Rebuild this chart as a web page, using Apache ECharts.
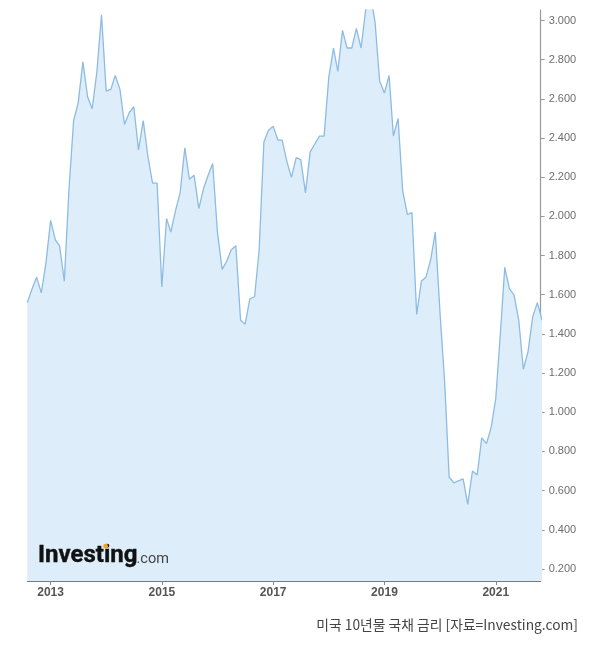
<!DOCTYPE html>
<html>
<head>
<meta charset="utf-8">
<script src="https://cdn.jsdelivr.net/npm/echarts@6/dist/echarts.min.js"></script>
<style>
html,body{margin:0;padding:0;background:#ffffff;}
#c{width:600px;height:648px;}
</style>
</head>
<body>
<div id="c"></div>
<script>
// US 10-year Treasury yield, monthly
const firstYear = 2012;
const firstMonth = 8; // August 2012
const yields2012 = [1.56, 1.63, 1.69, 1.61, 1.76];
const yields2013 = [1.98, 1.88, 1.85, 1.67, 2.13, 2.49, 2.58, 2.79, 2.61, 2.55, 2.74, 3.03];
const yields2014 = [2.64, 2.65, 2.72, 2.65, 2.47, 2.53, 2.56, 2.34, 2.49, 2.31, 2.17, 2.17];
const yields2015 = [1.64, 1.99, 1.92, 2.03, 2.12, 2.35, 2.19, 2.21, 2.04, 2.14, 2.21, 2.27];
const yields2016 = [1.92, 1.73, 1.77, 1.83, 1.85, 1.47, 1.45, 1.58, 1.59, 1.83, 2.38, 2.44];
const yields2017 = [2.46, 2.39, 2.39, 2.28, 2.20, 2.30, 2.29, 2.12, 2.33, 2.37, 2.41, 2.41];
const yields2018 = [2.71, 2.86, 2.74, 2.95, 2.86, 2.86, 2.96, 2.86, 3.06, 3.14, 2.99, 2.69];
const yields2019 = [2.63, 2.72, 2.41, 2.50, 2.13, 2.01, 2.02, 1.50, 1.67, 1.69, 1.78, 1.92];
const yields2020 = [1.51, 1.15, 0.67, 0.64, 0.65, 0.66, 0.53, 0.70, 0.68, 0.87, 0.84, 0.92];
const yields2021 = [1.07, 1.41, 1.74, 1.63, 1.60, 1.47, 1.22, 1.31, 1.49, 1.56, 1.47];

const yearlyYields = [yields2012, yields2013, yields2014, yields2015, yields2016,
                      yields2017, yields2018, yields2019, yields2020, yields2021];

const xTickYears = [2013, 2015, 2017, 2019, 2021];
const yTickMin = 0.2, yTickMax = 3.0, yTickStep = 0.2;
const viewStart = '2012-08-01', viewEnd = '2021-10-23';
const viewYMin = 0.139, viewYMax = 3.054;

const captionText = '미국 10년물 국채 금리 [자료=Investing.com]';

// build [date, value] pairs (first of each month)
const seriesData = [];
yearlyYields.forEach(function (arr, yi) {
  const yr = firstYear + yi;
  const m0 = yi === 0 ? firstMonth : 1;
  arr.forEach(function (v, k) {
    seriesData.push([new Date(yr, m0 - 1 + k, 1).getTime(), v]);
  });
});

function parseDay(s) { const p = s.split('-'); return new Date(+p[0], +p[1] - 1, +p[2]).getTime(); }

const chart = echarts.init(document.getElementById('c'), null, { renderer: 'canvas' });

const G = { left: 27.3, right: 59.3, top: 10, bottom: 67 };
const span = xTickYears[xTickYears.length - 1] - xTickYears[0];

const option = {
  animation: false,
  backgroundColor: '#ffffff',
  grid: [
    { left: G.left, right: G.right, top: G.top, bottom: G.bottom, containLabel: false },
    { left: 50.6, right: 104.3, top: G.top, bottom: G.bottom, containLabel: false },
    { left: G.left, right: G.right, top: 20.5, bottom: 79, containLabel: false }
  ],
  xAxis: [
    {
      type: 'time', gridIndex: 0,
      min: parseDay(viewStart), max: parseDay(viewEnd),
      axisLine: { show: true, onZero: false, lineStyle: { color: '#7a7a7a', width: 1 } },
      axisTick: { show: false }, axisLabel: { show: false }, splitLine: { show: false }
    },
    {
      type: 'value', gridIndex: 1, position: 'bottom',
      min: 0, max: span, interval: 2,
      axisLine: { show: false, onZero: false },
      axisTick: { show: true, length: 4, lineStyle: { color: '#888888' } },
      axisLabel: {
        show: true, margin: 6, color: '#555555', fontSize: 12, fontWeight: 'bold',
        fontFamily: 'Liberation Sans, Arial, sans-serif',
        formatter: function (v) { return String(xTickYears[0] + v); }
      },
      splitLine: { show: false }
    },
    {
      type: 'value', gridIndex: 2, show: false, min: 0, max: 1
    }
  ],
  yAxis: [
    {
      type: 'value', gridIndex: 0, position: 'right',
      min: viewYMin, max: viewYMax,
      axisLine: { show: true, onZero: false, lineStyle: { color: '#999999', width: 1.2 } },
      axisTick: { show: false }, axisLabel: { show: false }, splitLine: { show: false }
    },
    { type: 'value', gridIndex: 1, show: false, min: 0, max: 1 },
    {
      type: 'value', gridIndex: 2, position: 'right',
      min: yTickMin, max: yTickMax, interval: yTickStep,
      axisLine: { show: false, onZero: false },
      axisTick: { show: true, length: 4, lineStyle: { color: '#999999' } },
      axisLabel: {
        show: true, margin: 8, color: '#6e6e6e', fontSize: 11,
        fontFamily: 'Liberation Sans, Arial, sans-serif',
        formatter: function (v) { return v.toFixed(3); }
      },
      splitLine: { show: false }
    }
  ],
  series: [
    {
      type: 'line', xAxisIndex: 0, yAxisIndex: 0,
      data: seriesData,
      showSymbol: false, symbol: 'none', smooth: false, clip: true,
      lineStyle: { color: '#8dbbe2', width: 1.3 },
      areaStyle: { color: '#ddeefa', opacity: 1 },
      silent: true
    }
  ],
  graphic: [
    {
      type: 'text', x: 38, y: 568, z: 10,
      style: { text: 'Investing', font: 'bold 24px Roboto, Arial, sans-serif', fill: '#111111', align: 'left', verticalAlign: 'bottom', stroke: '#111111', lineWidth: 0.4 }
    },
    {
      type: 'circle', z: 11,
      shape: { cx: 105.6, cy: 546.2, r: 2.4 },
      style: { fill: '#f4a51c' }
    },
    {
      type: 'text', x: 136.5, y: 567, z: 10,
      style: { text: '.com', font: '14.5px Roboto, Arial, sans-serif', fill: '#444444', align: 'left', verticalAlign: 'bottom' }
    },
    {
      type: 'text', x: 578, y: 625, z: 10,
      style: { text: captionText, font: '13.8px "Noto Sans CJK KR", sans-serif', fill: '#444444', align: 'right', verticalAlign: 'middle' }
    }
  ]
};

chart.setOption(option);

// align the year-label axis with the time axis
const p0 = chart.convertToPixel({ xAxisIndex: 0 }, new Date(xTickYears[0], 0, 1).getTime());
const p1 = chart.convertToPixel({ xAxisIndex: 0 }, new Date(xTickYears[xTickYears.length - 1], 0, 1).getTime());
chart.setOption({ grid: [{}, { left: p0, right: 600 - p1 }, {}] });
</script>
</body>
</html>
